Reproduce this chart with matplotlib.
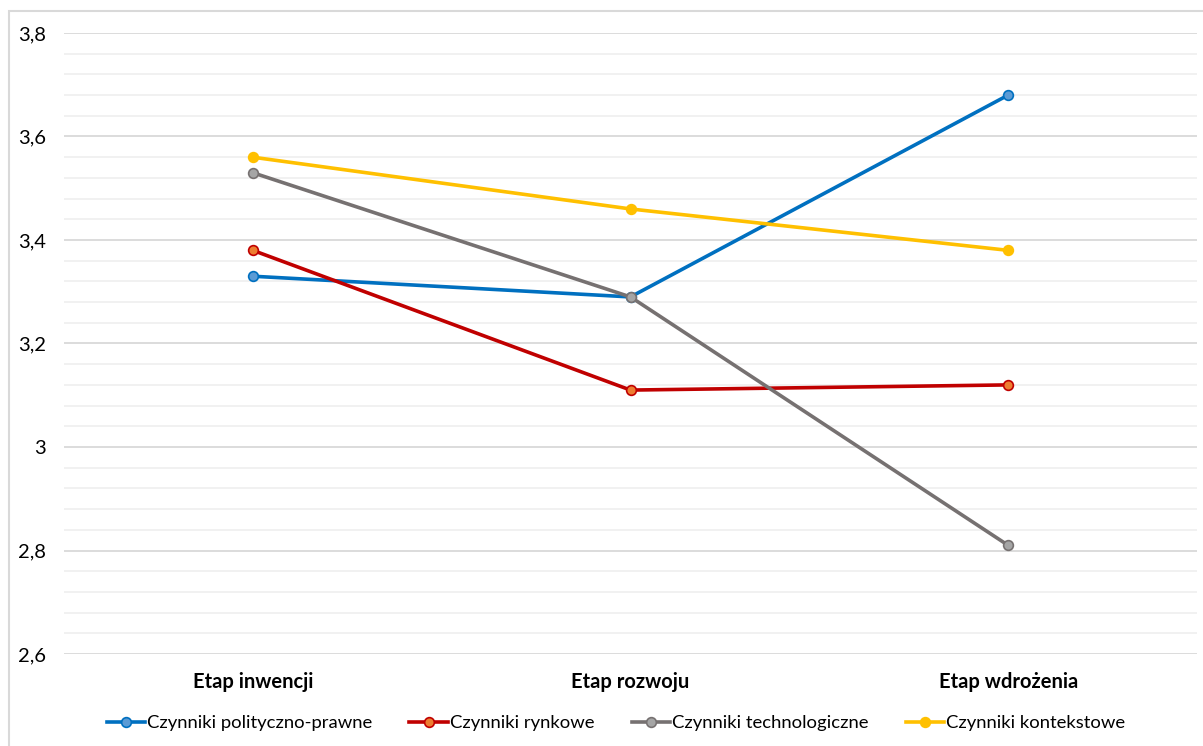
import numpy as np
import matplotlib.pyplot as plt
from matplotlib.patches import Rectangle
from matplotlib.ticker import MultipleLocator, FuncFormatter

plt.rcParams['font.family'] = ['Lato', 'DejaVu Sans']

# data
etapy = ["Etap inwencji", "Etap rozwoju", "Etap wdrożenia"]
polityczno_prawne = [3.33, 3.29, 3.68]
rynkowe = [3.38, 3.11, 3.12]
technologiczne = [3.53, 3.29, 2.81]
kontekstowe = [3.56, 3.46, 3.38]

serie = [
    ("Czynniki polityczno-prawne", polityczno_prawne, "#0070C0", "#5B9BD5"),
    ("Czynniki rynkowe", rynkowe, "#C00000", "#ED7D31"),
    ("Czynniki technologiczne", technologiczne, "#767171", "#A5A5A5"),
    ("Czynniki kontekstowe", kontekstowe, "#FFC000", "#FFC000"),
]

fig = plt.figure(figsize=(12.03, 7.46), dpi=100)
ax = fig.add_axes([64 / 1203, 1 - 654 / 746, 1133 / 1203, 621 / 746])

# chart frame
fig.patches.append(Rectangle((9 / 1203, -0.05), 1.0, 1 - 11 / 746 + 0.05,
                             transform=fig.transFigure, fill=False,
                             edgecolor="#d9d9d9", linewidth=1.5, zorder=0))

x = np.arange(len(etapy))
for nazwa, wartosci, kolor, wypelnienie in serie:
    ax.plot(x, wartosci, color=kolor, linewidth=2.6, marker="o", markersize=7,
            markerfacecolor=wypelnienie, markeredgecolor=kolor,
            markeredgewidth=1.2, label=nazwa, zorder=3)

ax.set_xlim(-0.5, 2.5)
ax.set_ylim(2.6, 3.8)
ax.yaxis.set_major_locator(MultipleLocator(0.2))
ax.yaxis.set_minor_locator(MultipleLocator(0.04))
ax.yaxis.set_major_formatter(FuncFormatter(
    lambda v, p: ("%g" % round(v, 1)).replace(".", ",")))
ax.grid(axis="y", which="major", color="#d9d9d9", linewidth=1.3, zorder=0)
ax.grid(axis="y", which="minor", color="#f0f0f0", linewidth=1.3, zorder=0)

ax.set_xticks(x)
ax.set_xticklabels(etapy, fontsize=14.5, fontweight="bold")
ax.tick_params(axis="x", length=0, pad=13)
ax.tick_params(axis="y", which="both", length=0, pad=13, labelsize=14.5)
for s in ax.spines.values():
    s.set_visible(False)

fig.legend(loc="center", bbox_to_anchor=(616 / 1203, 1 - 723 / 746), ncol=4,
           frameon=False, fontsize=13.3, handlelength=2.1, handletextpad=0.1,
           columnspacing=2.0)

fig.savefig("out.png", dpi=100)
